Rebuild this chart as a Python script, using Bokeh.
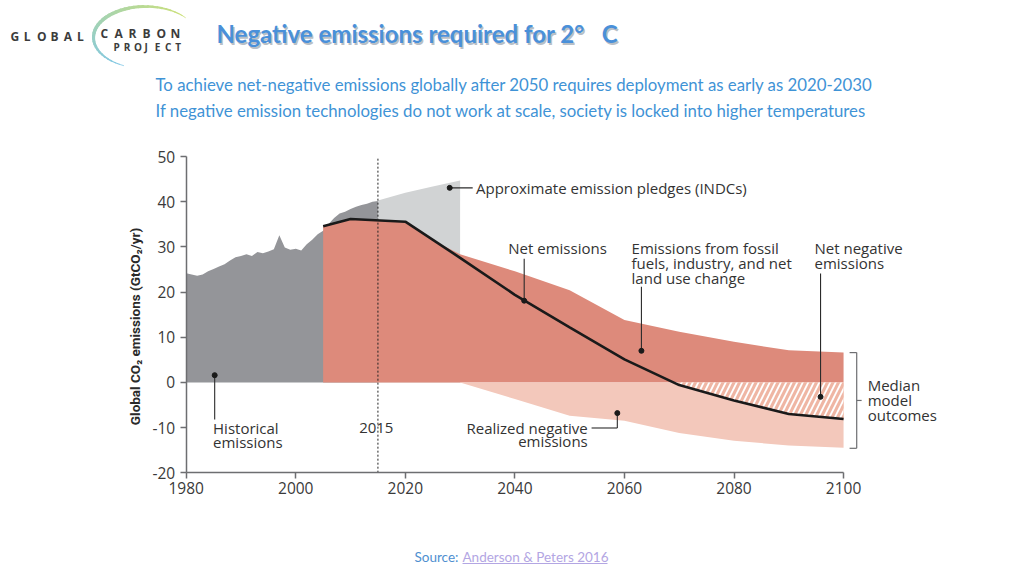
import numpy as np
from bokeh.plotting import figure
from bokeh.models import FixedTicker, Range1d
from bokeh.core.properties import value
from bokeh.embed import file_html
from bokeh.resources import INLINE

# ---------------- data ----------------
hist_years = list(range(1980, 2016))
hist_vals = [24.2, 23.9, 23.6, 23.9, 24.6, 25.1, 25.7, 26.2, 27.0, 27.7, 28.0, 28.4, 28.0,
             28.9, 28.6, 29.0, 29.5, 32.6, 29.9, 29.4, 29.6, 29.2, 30.6, 31.6, 32.8, 33.6,
             35.1, 36.4, 37.4, 37.8, 38.4, 38.9, 39.3, 39.6, 40.0, 40.2]

pledge_years = [2015, 2020, 2025, 2030]
pledge_vals = [40.3, 42.0, 43.4, 44.7]

fossil_years = [2005, 2010, 2020, 2025, 2030, 2040, 2050, 2060, 2070, 2080, 2090, 2100]
fossil_vals = [34.6, 36.2, 35.6, 31.5, 28.4, 24.6, 20.4, 13.8, 11.2, 9.0, 7.1, 6.6]

net_years = [2005, 2010, 2020, 2030, 2040, 2050, 2060, 2070, 2080, 2090, 2100]
net_vals = [34.6, 36.2, 35.6, 27.6, 19.4, 12.2, 5.1, -0.6, -4.0, -7.0, -8.1]

realized_years = [2030, 2040, 2050, 2060, 2070, 2080, 2090, 2100]
realized_vals = [0.0, -3.7, -7.4, -8.5, -11.2, -12.9, -14.0, -14.5]

x_ticks = [1980, 2000, 2020, 2040, 2060, 2080, 2100]
y_ticks = [-20, -10, 0, 10, 20, 30, 40, 50]
y_tick_labels = {t: str(t) for t in y_ticks}

# ---------------- layout ----------------
W, H = 1024, 576
PX_YR = 5.478      # pixels per year
PX_U = 4.514       # pixels per GtCO2
X0_PAGE = 185.7    # page x of year 1980
Y0_PAGE = 381.9    # page y of value 0


def px(page_x):
    return 1980 + (page_x - X0_PAGE) / PX_YR


def py(page_y):
    return (Y0_PAGE - page_y) / PX_U


p = figure(width=W, height=H, output_backend="svg", toolbar_location=None,
           x_range=Range1d(px(0), px(W)), y_range=Range1d(py(H), py(0)),
           min_border_left=0, min_border_right=0, min_border_top=0, min_border_bottom=0)
p.outline_line_color = None
p.grid.visible = False
p.background_fill_color = "white"
p.border_fill_color = "white"

AX = "#6d6e71"
for ax, ticks, bounds in ((p.xaxis, x_ticks, (1980, 2100)), (p.yaxis, y_ticks, (-20, 50))):
    ax.ticker = FixedTicker(ticks=ticks)
    ax.bounds = bounds
    ax.axis_line_color = AX
    ax.axis_line_width = 1.5
    ax.major_tick_line_color = AX
    ax.major_tick_line_width = 1.5
    ax.major_tick_out = 6
    ax.major_tick_in = 0
    ax.minor_tick_line_color = None
    ax.major_label_text_font = "Open Sans"
    ax.major_label_text_font_size = "15.5px"
    ax.major_label_text_color = "#3a3a3a"
p.yaxis.fixed_location = 1980
p.xaxis.fixed_location = -20
p.yaxis.major_label_overrides = y_tick_labels
p.yaxis.major_label_standoff = 5
p.xaxis.major_label_standoff = 3

# ---------------- areas ----------------
DARK = "#949599"
LIGHT = "#d1d3d4"
RED = "#dd8a7b"
PINK = "#f3c8bb"

p.varea(x=hist_years, y1=[0] * len(hist_years), y2=hist_vals, fill_color=DARK)
p.varea(x=pledge_years, y1=[0] * len(pledge_years), y2=pledge_vals, fill_color=LIGHT)
p.varea(x=fossil_years, y1=[0] * len(fossil_years), y2=fossil_vals, fill_color=RED)
p.varea(x=realized_years, y1=realized_vals, y2=[0] * len(realized_years), fill_color=PINK)

ny = np.array(net_years, dtype=float)
nv = np.array(net_vals, dtype=float)
sel = ny >= 2020
cross = float(np.interp(0.0, nv[sel][::-1], ny[sel][::-1]))
hx = [cross] + [y for y in net_years if y > cross]
hv = [0.0] + [v for y, v in zip(net_years, net_vals) if y > cross]
p.varea(x=hx, y1=hv, y2=[0] * len(hx), fill_color="#efb6a4",
        hatch_pattern="/", hatch_color="white", hatch_weight=1.8, hatch_scale=11)

p.line(net_years, net_vals, line_color="#1a1a1a", line_width=2.6)

# 2015 dashed line
p.segment(x0=[2015], y0=[-20], x1=[2015], y1=[49.6], line_color="#222222",
          line_width=1, line_dash="2 2")

# ---------------- annotations ----------------
TC = "#333333"
FONT = value("Open Sans")
LC = "#2b2b2b"
FS = "15px"

seg_x0 = [2028.1, 2041.7, 2063.1, 2095.8, 1985.2, 2054.0, 2058.7]
seg_y0 = [43.1, 27.4, 21.2, 24.1, 1.6, -10.1, -10.1]
seg_x1 = [2032.3, 2041.7, 2063.1, 2095.8, 1985.2, 2058.7, 2058.7]
seg_y1 = [43.1, 18.1, 7.0, -3.2, -8.2, -10.1, -6.8]
p.segment(x0=seg_x0, y0=seg_y0, x1=seg_x1, y1=seg_y1, line_color=LC, line_width=1.1)

dot_x = [2028.1, 2041.7, 2063.1, 2095.8, 1985.2, 2058.7]
dot_y = [43.1, 18.1, 7.0, -3.2, 1.6, -6.8]
p.scatter(dot_x, dot_y, size=5, color="#1a1a1a")

# bracket for median model outcomes
BX = 2102.4
p.segment(x0=[BX, 2101.1, 2101.1, BX], y0=[6.6, 6.6, -14.6, -4.0],
          x1=[BX, BX, BX, 2103.3], y1=[-14.6, 6.6, -14.6, -4.0],
          line_color="#6d6e71", line_width=1.2)

left_texts = ["Approximate emission pledges (INDCs)", "Net emissions",
              "Emissions from fossil", "fuels, industry, and net", "land use change",
              "Net negative", "emissions", "Historical", "emissions",
              "Median", "model", "outcomes"]
left_x = [2032.9, 2038.8, 2061.3, 2061.3, 2061.3, 2094.7, 2094.7, 1984.9, 1984.9,
          2104.4, 2104.4, 2104.4]
left_y = [43.1, 29.8, 29.8, 26.5, 23.2, 29.8, 26.5, -10.0, -13.3, -0.5, -3.9, -7.2]
p.text(x=left_x, y=left_y, text=left_texts, text_font=FONT, text_font_size=FS,
       text_color=TC, text_align="left", text_baseline="middle")

p.text(x=[2053.3, 2053.3], y=[-10.1, -12.9], text=["Realized negative", "emissions"],
       text_font=FONT, text_font_size=FS, text_color=TC, text_align="right",
       text_baseline="middle")
p.text(x=[2014.7], y=[-10.0], text=["2015"], text_font=FONT, text_font_size=FS,
       text_color=TC, text_align="center", text_baseline="middle")


# ---------------- header, axis title, source ----------------
def txt(text, x, y, size, color, font="Lato", align="left", style="normal", angle=0.0,
        alpha=1.0):
    p.text(x=[px(x)], y=[py(y)], text=[text], text_font=value(font), text_font_size=size,
           text_color=color, text_align=align, text_baseline="middle",
           text_font_style=style, angle=angle, text_alpha=alpha)


txt("Global CO\u2082 emissions (GtCO\u2082/yr)", 134, 326, "13.5px", "#2a2a2a",
    font="Roboto", style="bold", align="center", angle=np.pi / 2)

title = "Negative emissions required for 2\u00b0\u00a0\u00a0\u00a0C"
txt(title, 217.5, 34.5, "24px", "#9aa3ad", style="bold", alpha=0.7)
txt(title, 216, 33, "24px", "#4a90d9", style="bold")

txt("To achieve net-negative emissions globally after 2050 requires deployment as early as 2020-2030",
    155, 84, "16.8px", "#3f93d6")
txt("If negative emission technologies do not work at scale, society is locked into higher temperatures",
    155, 110, "16.8px", "#3f93d6")

txt("Source:", 414, 556, "13.5px", "#4f8fd0")
txt("Anderson & Peters 2016", 462, 556, "13.5px", "#b3a6e3")
p.segment(x0=[px(462)], y0=[py(563)], x1=[px(607)], y1=[py(563)], line_color="#b3a6e3",
          line_width=1)

# logo: gradient arc + letter-spaced words
theta = np.linspace(np.radians(40), np.radians(245), 40)
cx, cy, rx, ry = 145.0, 37.0, 52.0, 31.0
ax_pts = cx + rx * np.cos(theta)
ay_pts = cy - ry * np.sin(theta)
c0 = np.array([205, 225, 120])
c1 = np.array([130, 200, 230])
xs, ys, cols, wids = [], [], [], []
for i in range(len(theta) - 1):
    t = i / (len(theta) - 2)
    c = (c0 * (1 - t) + c1 * t).astype(int)
    xs.append([px(ax_pts[i]), px(ax_pts[i + 1])])
    ys.append([py(ay_pts[i]), py(ay_pts[i + 1])])
    cols.append("#%02x%02x%02x" % tuple(c))
    wids.append(0.8 + 2.8 * np.sin(np.pi * t))
p.multi_line(xs=xs, ys=ys, line_color=cols, line_width=wids, line_cap="round")

for i, ch in enumerate("GLOBAL"):
    txt(ch, 10 + i * 13.3, 36, "12px", "#3c3c3c", font="Open Sans", style="bold")
for i, ch in enumerate("CARBON"):
    txt(ch, 100 + i * 14.0, 33, "12px", "#3c3c3c", font="Open Sans", style="bold")
for i, ch in enumerate("PROJECT"):
    txt(ch, 113 + i * 10.3, 46, "10px", "#3c3c3c", font="Open Sans", style="bold")

open("out.html", "w").write(file_html(p, INLINE))
